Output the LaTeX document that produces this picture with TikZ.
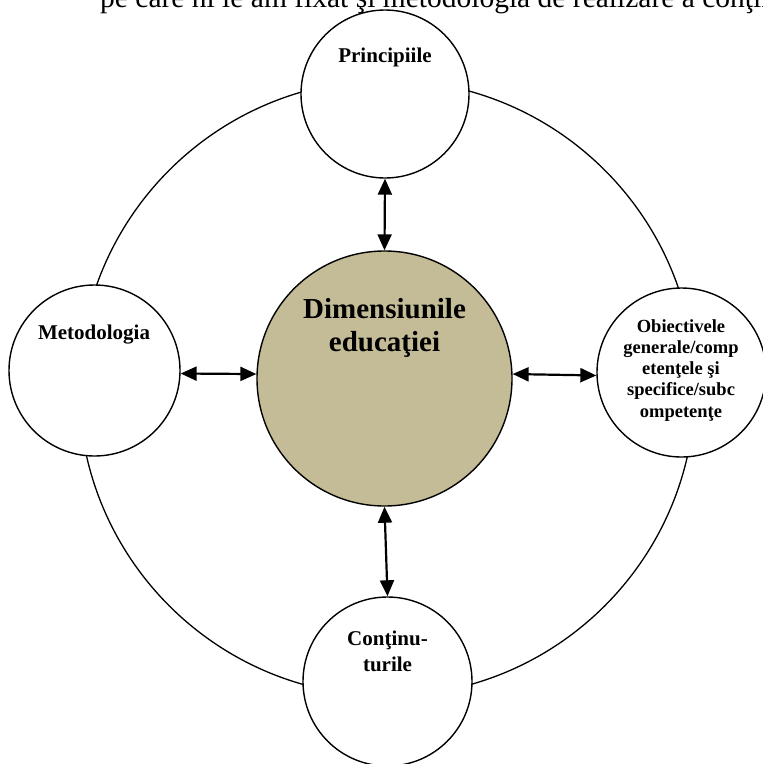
\documentclass[tikz,border=0pt]{standalone}
\usepackage{fontspec}
\setmainfont{Liberation Serif}
\usetikzlibrary{arrows.meta}
\definecolor{coretan}{HTML}{C4BC96}
\begin{document}
\begin{tikzpicture}[x=1pt,y=-1pt,
  ring/.style={draw=black,line width=1.3pt},
  bubble/.style={circle,draw=black,line width=1.4pt,fill=white,inner sep=0pt,minimum size=#1},
  link/.style={line width=2.2pt,{Triangle[length=16pt,width=14pt]}-{Triangle[length=16pt,width=14pt]}},
  lbl/.style={font=\bfseries\fontsize{21}{26}\selectfont,align=center,inner sep=0pt,anchor=base},
  lblsmall/.style={font=\bfseries\fontsize{18.5}{21.2}\selectfont,align=center,inner sep=0pt,anchor=base},
  lblbig/.style={font=\bfseries\fontsize{29}{33}\selectfont,align=center,inner sep=0pt,anchor=base}
]
\useasboundingbox (0,0) rectangle (763,764);

% line of running text above the figure
\node (intro) [anchor=base west,inner sep=0pt,font=\fontsize{29.5}{34}\selectfont] at (100,7)
  {pe care ni le am fixat şi metodologia de realizare a conţin};

% outer ring joining the four bubbles
\coordinate (ringc) at (387,388);
\draw[ring] (ringc) circle[radius=308];

% bubbles
\node (P) [bubble=168pt] at (385,94) {};
\node (M) [bubble=171pt] at (94.5,370.5) {};
\node (O) [bubble=169pt] at (681.5,372.5) {};
\node (C) [bubble=169pt] at (387.5,681.5) {};
\node (D) [bubble=255pt,fill=coretan] at (384.5,378.5) {};

% labels (anchored on the baseline of their last line)
\node (Pl) [lbl] at (385,62) {Principiile};
\node (Ml) [lbl] at (94,339) {Metodologia};
\node (Dl) [lblbig] at (384.5,351) {Dimensiunile\\educaţiei};
\node (Cl) [lbl] at (387.5,671) {Conţinu-\\turile};
\node (Ol) [lblsmall] at (681,417) {Obiectivele\\generale/comp\\etenţele şi\\specifice/subc\\ompetenţe};

% two-way links
\draw[link] (P.south) -- (D.north);
\draw[link] (M.-2.3) -- (D.178);
\draw[link] (D.2.5) -- (O.182.4);
\draw[link] (D.south) -- (C.north);
\end{tikzpicture}
\end{document}
